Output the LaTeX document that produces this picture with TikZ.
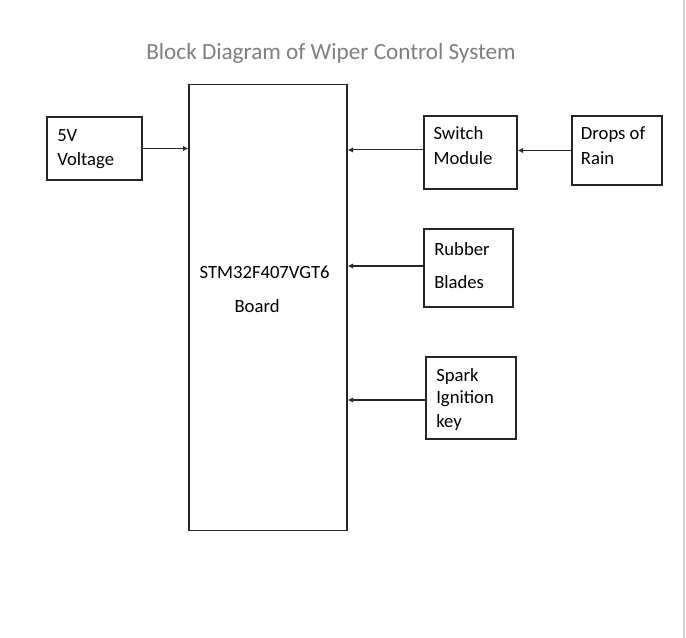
\documentclass[tikz,border=0pt]{standalone}
\usepackage{fontspec}
\setmainfont{Carlito}
\usetikzlibrary{arrows.meta}
\definecolor{titlegray}{HTML}{7F7F7F}
\definecolor{linegray}{HTML}{262626}
\begin{document}
\begin{tikzpicture}[x=0.75pt,y=-0.75pt,
  blk/.style={draw=linegray, line width=1pt, inner sep=0pt},
  txt/.style={anchor=base west, inner sep=0pt, font=\fontsize{14}{17}\selectfont, text=black},
  arr/.style={draw=black!85, line width=0.8pt, -{Latex[length=4pt,width=4pt]}}]
\useasboundingbox (0,0) rectangle (686,638);
\fill[white] (0,0) rectangle (686,638);
\draw[gray!35, line width=0.8pt] (684,0) -- (684,638);

% title
\node[anchor=base, inner sep=0pt, font=\fontsize{17.4}{20}\selectfont, text=titlegray] (title) at (331,60) {Block Diagram of Wiper Control System};

% boxes
\node[blk, minimum width=0.75*158pt, minimum height=0.75*446pt] (main) at (268,307.5) {};
\node[blk, minimum width=0.75*95pt, minimum height=0.75*63pt] (v5) at (94.5,148.5) {};
\node[blk, minimum width=0.75*93pt, minimum height=0.75*73pt] (sw) at (470.5,152.5) {};
\node[blk, minimum width=0.75*90pt, minimum height=0.75*69pt] (dr) at (617,150.5) {};
\node[blk, minimum width=0.75*89pt, minimum height=0.75*78pt] (rb) at (468.5,268) {};
\node[blk, minimum width=0.75*90pt, minimum height=0.75*82pt] (sk) at (471,398) {};

% texts
\node[txt] (t5a) at (57,141.5) {5V};
\node[txt] (t5b) at (57,166) {Voltage};
\node[txt] (tswa) at (433.3,139.5) {Switch};
\node[txt] (tswb) at (433.3,164.5) {Module};
\node[txt] (tdra) at (580.7,139.5) {Drops of};
\node[txt] (tdrb) at (580.7,164.5) {Rain};
\node[txt] (trba) at (434,256) {Rubber};
\node[txt] (trbb) at (434,288.5) {Blades};
\node[txt] (tska) at (436,381.7) {Spark};
\node[txt] (tskb) at (436,403.5) {Ignition};
\node[txt] (tskc) at (436,427) {key};
\node[txt] (tma) at (199.3,278.3) {STM32F407VGT6};
\node[txt] (tmb) at (234.3,312.7) {Board};

% connectors
\coordinate (swa) at ([yshift=1.9pt]sw.west);
\coordinate (rba) at ([yshift=1.5pt]rb.west);
\coordinate (ska) at ([yshift=-1.5pt]sk.west);
\draw[arr] (v5.east) -- (v5.east -| main.west);
\draw[arr] (swa) -- (swa -| main.east);
\draw[arr] (dr.west) -- (dr.west -| sw.east);
\draw[arr] (rba) -- (rba -| main.east);
\draw[arr] (ska) -- (ska -| main.east);
\end{tikzpicture}
\end{document}
